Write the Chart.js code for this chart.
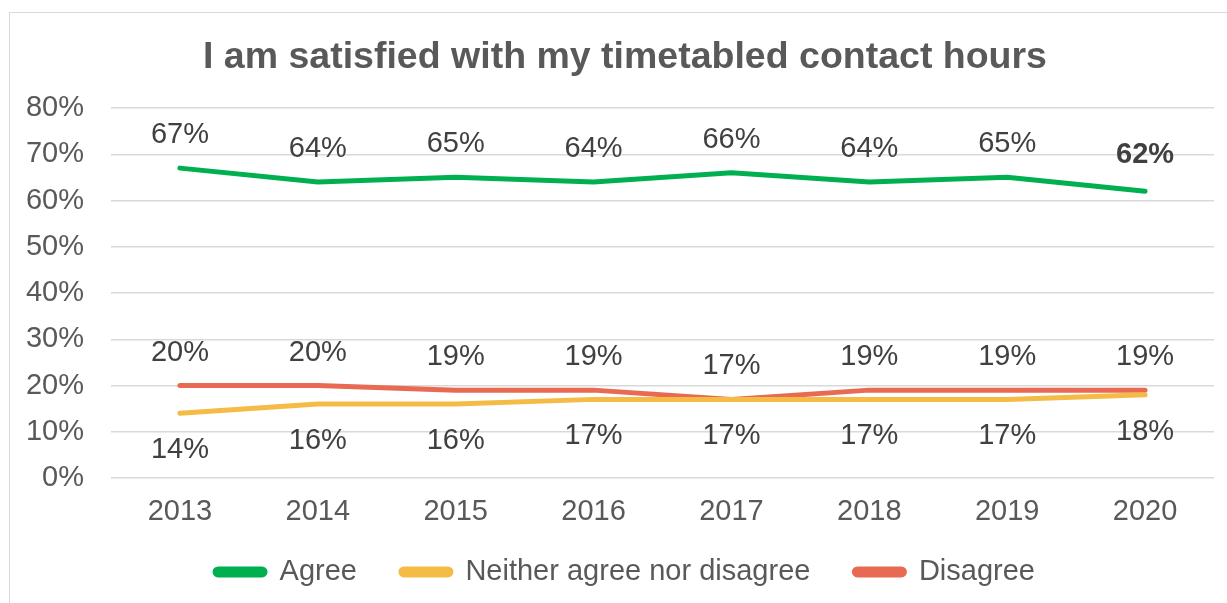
<!DOCTYPE html>
<html>
<head>
<meta charset="utf-8">
<script src="https://cdn.jsdelivr.net/npm/chart.js@4.4.0/dist/chart.umd.min.js"></script>
<style>
  html, body { margin: 0; padding: 0; background: #fff; overflow: hidden; }
  #box {
    position: absolute; left: 9px; top: 12px;
    width: 1217px; height: 590px;
    border-left: 1px solid #d9d9d9; border-top: 1px solid #d9d9d9;
  }
</style>
</head>
<body>
<div id="box"><canvas id="mycanvas"></canvas></div>
<script>
var years = ['2013', '2014', '2015', '2016', '2017', '2018', '2019', '2020'];
var agree = [67, 64, 65, 64, 66, 64, 65, 62];
var neither = [14, 16, 16, 17, 17, 17, 17, 18];
var disagree = [20, 20, 19, 19, 17, 19, 19, 19];

var font = '"Liberation Sans", Arial, sans-serif';

// draws the % labels next to each point, like excel data labels
var valueLabels = {
  id: 'valueLabels',
  afterDatasetsDraw: function(chart) {
    var ctx = chart.ctx;
    chart.data.datasets.forEach(function(ds, i) {
      var meta = chart.getDatasetMeta(i);
      meta.data.forEach(function(pt, j) {
        var bold = ds.label == 'Agree' && j == ds.data.length - 1;
        ctx.save();
        ctx.font = (bold ? 'bold ' : '') + '29px ' + font;
        ctx.fillStyle = '#404040';
        ctx.textAlign = 'center';
        ctx.textBaseline = 'middle';
        ctx.fillText(ds.data[j] + '%', pt.x, pt.y + ds.labelOffset - (bold ? 3 : 0));
        ctx.restore();
      });
    });
  }
};

var chartdata = {
  labels: years,
  datasets: [
    {
      label: 'Agree',
      data: agree,
      borderColor: '#00B050',
      backgroundColor: '#00B050',
      labelOffset: -33
    },
    {
      label: 'Neither agree nor disagree',
      data: neither,
      borderColor: '#F4BB45',
      backgroundColor: '#F4BB45',
      labelOffset: 37
    },
    {
      label: 'Disagree',
      data: disagree,
      borderColor: '#E96A52',
      backgroundColor: '#E96A52',
      labelOffset: -33
    }
  ]
};

// tick text runs outside the (fixed) scale boxes, so turn off label clipping
function noClip(scale) {
  scale._computeLabelArea = function() {};
}

var ctx = document.getElementById('mycanvas');

var lineGraph = new Chart(ctx, {
  type: 'line',
  data: chartdata,
  plugins: [valueLabels],
  options: {
    responsive: true,
    maintainAspectRatio: false,
    animation: false,
    layout: { padding: { left: 26, right: 13, top: 0, bottom: 6.6 } },
    elements: {
      line: { borderWidth: 5, tension: 0, borderCapStyle: 'round' },
      point: { radius: 0, hoverRadius: 0 }
    },
    plugins: {
      title: {
        display: true,
        text: 'I am satisfied with my timetabled contact hours',
        color: '#595959',
        font: { family: font, size: 37.5, weight: 'bold' },
        padding: { top: 22, bottom: 28 }
      },
      legend: {
        position: 'bottom',
        labels: {
          color: '#595959',
          font: { family: font, size: 29 },
          boxWidth: 50,
          boxHeight: 6,
          useBorderRadius: true,
          borderRadius: 3,
          padding: 44
        }
      },
      tooltip: { enabled: false }
    },
    scales: {
      x: {
        offset: true,
        afterFit: function(scale) {
          scale.height = 35.4;
          noClip(scale);
        },
        grid: { display: false },
        border: { display: false },
        ticks: { color: '#595959', font: { family: font, size: 29 }, padding: 8.6 }
      },
      y: {
        min: 0,
        max: 80,
        afterFit: function(scale) {
          scale.width = 75;
          noClip(scale);
        },
        grid: { color: '#d9d9d9', lineWidth: 1.5, drawTicks: false },
        border: { display: false },
        ticks: {
          stepSize: 10,
          color: '#595959',
          font: { family: font, size: 29 },
          padding: 27,
          callback: function(v) { return v + '%'; }
        }
      }
    }
  }
});
</script>
</body>
</html>
